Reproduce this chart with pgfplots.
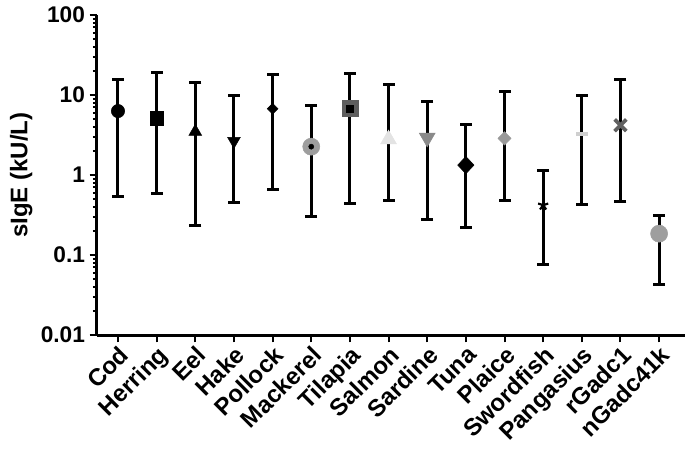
\documentclass[border=0pt]{standalone}
\usepackage{fontspec}
\setmainfont{Liberation Sans}
\usepackage{pgfplots}
\usepackage{pgfplotstable}
\pgfplotsset{compat=1.18}
\definecolor{gA}{HTML}{9E9E9E}
\definecolor{gT}{HTML}{5E5E5E}
\definecolor{gS}{HTML}{E3E3E3}
\definecolor{gSa}{HTML}{8A8A8A}
\definecolor{gP}{HTML}{999999}
\definecolor{gPa}{HTML}{CFCFCF}
\definecolor{gR}{HTML}{606060}
% error bar ends (lower, upper) per category
\pgfplotstableread{
x y
0 0.546
0 15.7
0 nan
1 0.585
1 19.0
1 nan
2 0.235
2 14.3
2 nan
3 0.456
3 10.0
3 nan
4 0.656
4 18.3
4 nan
5 0.301
5 7.35
5 nan
6 0.443
6 18.5
6 nan
7 0.482
7 13.6
7 nan
8 0.279
8 8.41
8 nan
9 0.222
9 4.34
9 nan
10 0.482
10 11.2
10 nan
11 0.0764
11 1.14
11 nan
12 0.43
12 9.8
12 nan
13 0.469
13 15.8
13 nan
14 0.0426
14 0.316
14 nan
}\bars
\begin{document}
\begin{tikzpicture}
\begin{axis}[
  scale only axis,
  width=441pt, height=240pt,
  ymode=log,
  ymin=0.01, ymax=100,
  xmin=-0.543, xmax=14.67,
  axis x line=bottom, axis y line=left,
  axis line style={line width=2.25pt, -},
  tick align=outside,
  major tick length=5.5pt,
  minor tick length=3pt,
  every tick/.style={black, line width=1.5pt},
  xtick={0,...,14},
  xticklabels={Cod,Herring,Eel,Hake,Pollock,Mackerel,Tilapia,Salmon,Sardine,Tuna,Plaice,Swordfish,Pangasius,rGadc1,nGadc41k},
  ytick={0.01,0.1,1,10,100},
  yticklabels={0.01,0.1,1,10,100},
  yticklabel style={font=\bfseries\fontsize{17}{17}\selectfont},
  xticklabel style={font=\bfseries\fontsize{18}{18}\selectfont, rotate=45, anchor=north east, inner sep=1pt},
  ylabel={sIgE (kU/L)},
  ylabel style={font=\bfseries\fontsize{18}{18}\selectfont, at={(axis description cs:-0.129,0.5)}, anchor=center},
  unbounded coords=jump,
  clip=false,
]
% Pangasius marker below the bar
\addplot[only marks, mark=-, mark size=4.5pt, color=gPa, mark options={line width=3pt}] coordinates {(12,3.22)};
% error bars
\addplot[black, line width=2.25pt, mark=-, mark size=4.5pt, mark options={line width=2.25pt}] table[x=x, y=y] {\bars};
% markers
\addplot[only marks, mark=*, mark size=5pt, black] coordinates {(0,6.3)};
\addplot[only marks, mark=square*, mark size=5pt, black] coordinates {(1,5.1)};
\addplot[only marks, mark=triangle*, mark size=5.5pt, black] coordinates {(2,3.48)};
\addplot[only marks, mark=triangle*, mark size=5.5pt, black, mark options={rotate=180}] coordinates {(3,2.66)};
\addplot[only marks, mark=diamond*, mark size=4pt, black, mark options={xscale=1.33}] coordinates {(4,6.74)};
\addplot[only marks, mark=*, mark size=6.4pt, color=gA, mark options={draw=gA, fill=gA}] coordinates {(5,2.26)};
\addplot[only marks, mark=*, mark size=1.9pt, black] coordinates {(5,2.26)};
\addplot[only marks, mark=square*, mark size=6pt, color=gT, mark options={rounded corners=2pt}] coordinates {(6,6.74)};
\addplot[only marks, mark=square*, mark size=2.6pt, black] coordinates {(6,6.74)};
\addplot[only marks, mark=triangle*, mark size=6.9pt, color=gS] coordinates {(7,2.79)};
\addplot[only marks, mark=triangle*, mark size=6.9pt, color=gSa, mark options={rotate=180}] coordinates {(8,2.93)};
\addplot[only marks, mark=diamond*, mark size=6.5pt, black, mark options={xscale=1.25}] coordinates {(9,1.33)};
\addplot[only marks, mark=diamond*, mark size=5pt, color=gP, mark options={xscale=1.3, rounded corners=1.5pt}] coordinates {(10,2.87)};
\addplot[only marks, mark=star, mark size=4pt, black, mark options={line width=1.6pt}] coordinates {(11,0.42)};
\addplot[only marks, mark=x, mark size=6.2pt, color=gR, mark options={line width=2.8pt}] coordinates {(13,4.18)};
\addplot[only marks, mark=*, mark size=6.4pt, color=gA] coordinates {(14,0.185)};
\end{axis}
\pgfresetboundingbox
\path[use as bounding box] (current axis.south west) ++(-72.75pt,-91.5pt) rectangle ++(513.75pt,342.75pt);
\end{tikzpicture}
\end{document}
